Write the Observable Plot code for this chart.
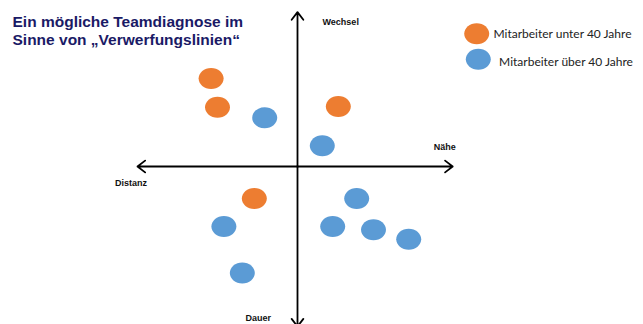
<!DOCTYPE html>
<html>
<head>
<meta charset="utf-8">
<script src="https://cdn.jsdelivr.net/npm/d3@7"></script>
<script src="https://cdn.jsdelivr.net/npm/@observablehq/plot@0.6"></script>
<style>
  html, body { margin: 0; padding: 0; background: #fff; }
  #chart svg { display: block; }
</style>
</head>
<body>
<div id="chart"></div>
<script>
// ---- data ----
const titleText = "Ein mögliche Teamdiagnose im\nSinne von „Verwerfungslinien“";
const groups = ["Mitarbeiter unter 40 Jahre", "Mitarbeiter über 40 Jahre"];
const groupColors = ["#ED7D31", "#5B9BD5"];

// positions on the "Distanz – Nähe" (x) and "Dauer – Wechsel" (y) axes
const youngX = [-5.4, -5.0, 2.55, -2.7];
const youngY = [5.5, 3.7, 3.75, -2.0];
const oldX = [-2.05, 1.55, 3.7, -4.6, 2.2, 4.75, 6.95, -3.45];
const oldY = [3.05, 1.3, -2.0, -3.75, -3.75, -3.95, -4.55, -6.65];

const axisLabels = ["Wechsel", "Nähe", "Distanz", "Dauer"];
const axisLabelX = [2.7, 9.2, -10.4, -2.45];
const axisLabelY = [9.05, 1.2, -1.05, -9.5];

// axis extents (arrow tips)
const axisLeft = -10, axisRight = 9.7, axisTop = 9.65, axisBottom = -10;

// legend anchor positions (same coordinate system)
const legendX = [11.2, 11.3];
const legendY = [8.3, 6.7];
const legendTextX = [12.25, 12.6];
const legendTextY = [8.25, 6.55];

// ---- build tables ----
const points = [
  ...youngX.map((x, i) => ({x, y: youngY[i], group: groups[0]})),
  ...oldX.map((x, i) => ({x, y: oldY[i], group: groups[1]}))
];
const labels = axisLabels.map((t, i) => ({t, x: axisLabelX[i], y: axisLabelY[i]}));
const legend = groups.map((g, i) => ({g, x: legendX[i], y: legendY[i], tx: legendTextX[i], ty: legendTextY[i]}));
const arrows = [
  {x1: 0, y1: 0, x2: axisRight, y2: 0},
  {x1: 0, y1: 0, x2: axisLeft, y2: 0},
  {x1: 0, y1: 0, x2: 0, y2: axisTop},
  {x1: 0, y1: 0, x2: 0, y2: axisBottom}
];

// ellipse symbol (Office-style oval markers)
const ellipse = {
  draw(ctx) {
    const rx = 12.5, ry = 10.5, k = 0.5523;
    ctx.moveTo(rx, 0);
    ctx.bezierCurveTo(rx, ry * k, rx * k, ry, 0, ry);
    ctx.bezierCurveTo(-rx * k, ry, -rx, ry * k, -rx, 0);
    ctx.bezierCurveTo(-rx, -ry * k, -rx * k, -ry, 0, -ry);
    ctx.bezierCurveTo(rx * k, -ry, rx, -ry * k, rx, 0);
    ctx.closePath();
  }
};

const chart = Plot.plot({
  width: 643,
  height: 324,
  margin: 0,
  style: {background: "#fff", overflow: "hidden"},
  x: {domain: [-10, 10], range: [137, 457], axis: null},
  y: {domain: [-10, 10], range: [326, 6], axis: null},
  color: {domain: groups, range: groupColors},
  marks: [
    Plot.arrow(arrows, {x1: "x1", y1: "y1", x2: "x2", y2: "y2", stroke: "#000", strokeWidth: 1.8, headLength: 8, headAngle: 75}),
    Plot.dot(points, {x: "x", y: "y", fill: "group", symbol: ellipse, r: 11}),
    Plot.text(labels, {x: "x", y: "y", text: "t", fontFamily: "Liberation Sans, Arial, sans-serif", fontWeight: "bold", fontSize: 9, fill: "#111"}),
    Plot.dot(legend, {x: "x", y: "y", fill: "g", symbol: ellipse, r: 11}),
    Plot.text(legend, {x: "tx", y: "ty", text: "g", textAnchor: "start", fontFamily: "Lato, Calibri, sans-serif", fontSize: 12, fill: "#222"}),
    Plot.text([titleText], {frameAnchor: "top-left", dx: 12, dy: 13, lineAnchor: "top", text: d => d, fontFamily: "Liberation Sans, Arial, sans-serif", fontWeight: "bold", fontSize: 15.5, lineHeight: 1.18, fill: "#1A1A66"})
  ]
});
document.getElementById("chart").append(chart);
</script>
</body>
</html>
